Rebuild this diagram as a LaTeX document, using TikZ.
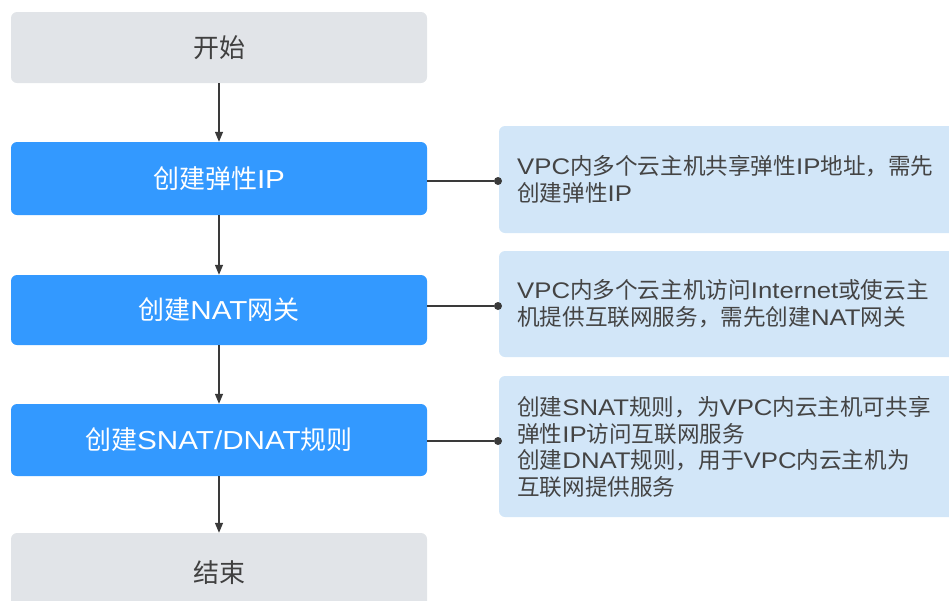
\documentclass[tikz,border=0pt]{standalone}
\usepackage{fontspec}
\setmainfont{Noto Sans CJK SC}
\newfontfamily\latinwide[FakeStretch=1.14]{Liberation Sans}
\newcommand\LatW[1]{{\latinwide #1}}
\usetikzlibrary{arrows.meta}
\definecolor{greybox}{HTML}{E1E4E8}
\definecolor{bluebox}{HTML}{3399FF}
\definecolor{notebox}{HTML}{D2E6F8}
\definecolor{darktext}{HTML}{404040}
\definecolor{notetext}{HTML}{444444}
\definecolor{linec}{HTML}{3A3A3A}
\tikzset{
  stepgrey/.style={fill=greybox, rounded corners=6pt, minimum width=416pt, inner sep=0pt, text=darktext, font=\fontsize{26}{30}\selectfont},
  stepblue/.style={fill=bluebox, rounded corners=6pt, minimum width=416pt, inner sep=0pt, text=white, font=\fontsize{26}{30}\selectfont},
  notebg/.style={fill=notebox, rounded corners=6pt},
  notetxt/.style={anchor=west, align=left, inner sep=0pt, text=notetext, font=\fontsize{22.6}{26.8}\selectfont},
  flow/.style={draw=linec, line width=1.3pt, -{Triangle[length=10pt,width=8pt]}},
  link/.style={draw=linec, line width=1.3pt},
  dotc/.style={circle, fill=linec, inner sep=0pt, minimum size=8pt}
}
\begin{document}
\begin{tikzpicture}[x=1pt,y=-1pt]
\useasboundingbox (0,0) rectangle (949,600);
\clip (0,0) rectangle (949,600);
\node[stepgrey, minimum height=71pt] (start) at (219,47.5) {开始};
\node[stepblue, minimum height=73pt] (ip) at (219,178.5) {创建弹性\LatW{IP}};
\node[stepblue, minimum height=70pt] (nat) at (219,310) {创建\LatW{NAT}网关};
\node[stepblue, minimum height=72pt] (snat) at (219,440) {创建\LatW{SNAT/DNAT}规则};
\node[stepgrey, minimum height=80pt] (end) at (219,573) {结束};
\draw[flow] (start) -- (ip);
\draw[flow] (ip) -- (nat);
\draw[flow] (nat) -- (snat);
\draw[flow] (snat) -- (end);
% notes
\fill[notebg] (499,126) rectangle (960,233);
\fill[notebg] (499,251) rectangle (960,357);
\fill[notebg] (499,376) rectangle (960,517);
\node[notetxt] (na) at (517,179) {\LatW{VPC}内多个云主机共享弹性\LatW{IP}地址，需先\\创建弹性\LatW{IP}};
\node[notetxt] (nb) at (517,304) {\LatW{VPC}内多个云主机访问\LatW{Internet}或使云主\\机提供互联网服务，需先创建\LatW{NAT}网关};
\node[notetxt] (nc) at (517,447) {创建\LatW{SNAT}规则，为\LatW{VPC}内云主机可共享\\弹性\LatW{IP}访问互联网服务\\创建\LatW{DNAT}规则，用于\LatW{VPC}内云主机为\\互联网提供服务};
\node[dotc] (da) at (498,181) {};
\node[dotc] (db) at (498,306) {};
\node[dotc] (dc) at (498,441) {};
\draw[link] (ip.east |- da) -- (da);
\draw[link] (nat.east |- db) -- (db);
\draw[link] (snat.east |- dc) -- (dc);
\end{tikzpicture}
\end{document}
